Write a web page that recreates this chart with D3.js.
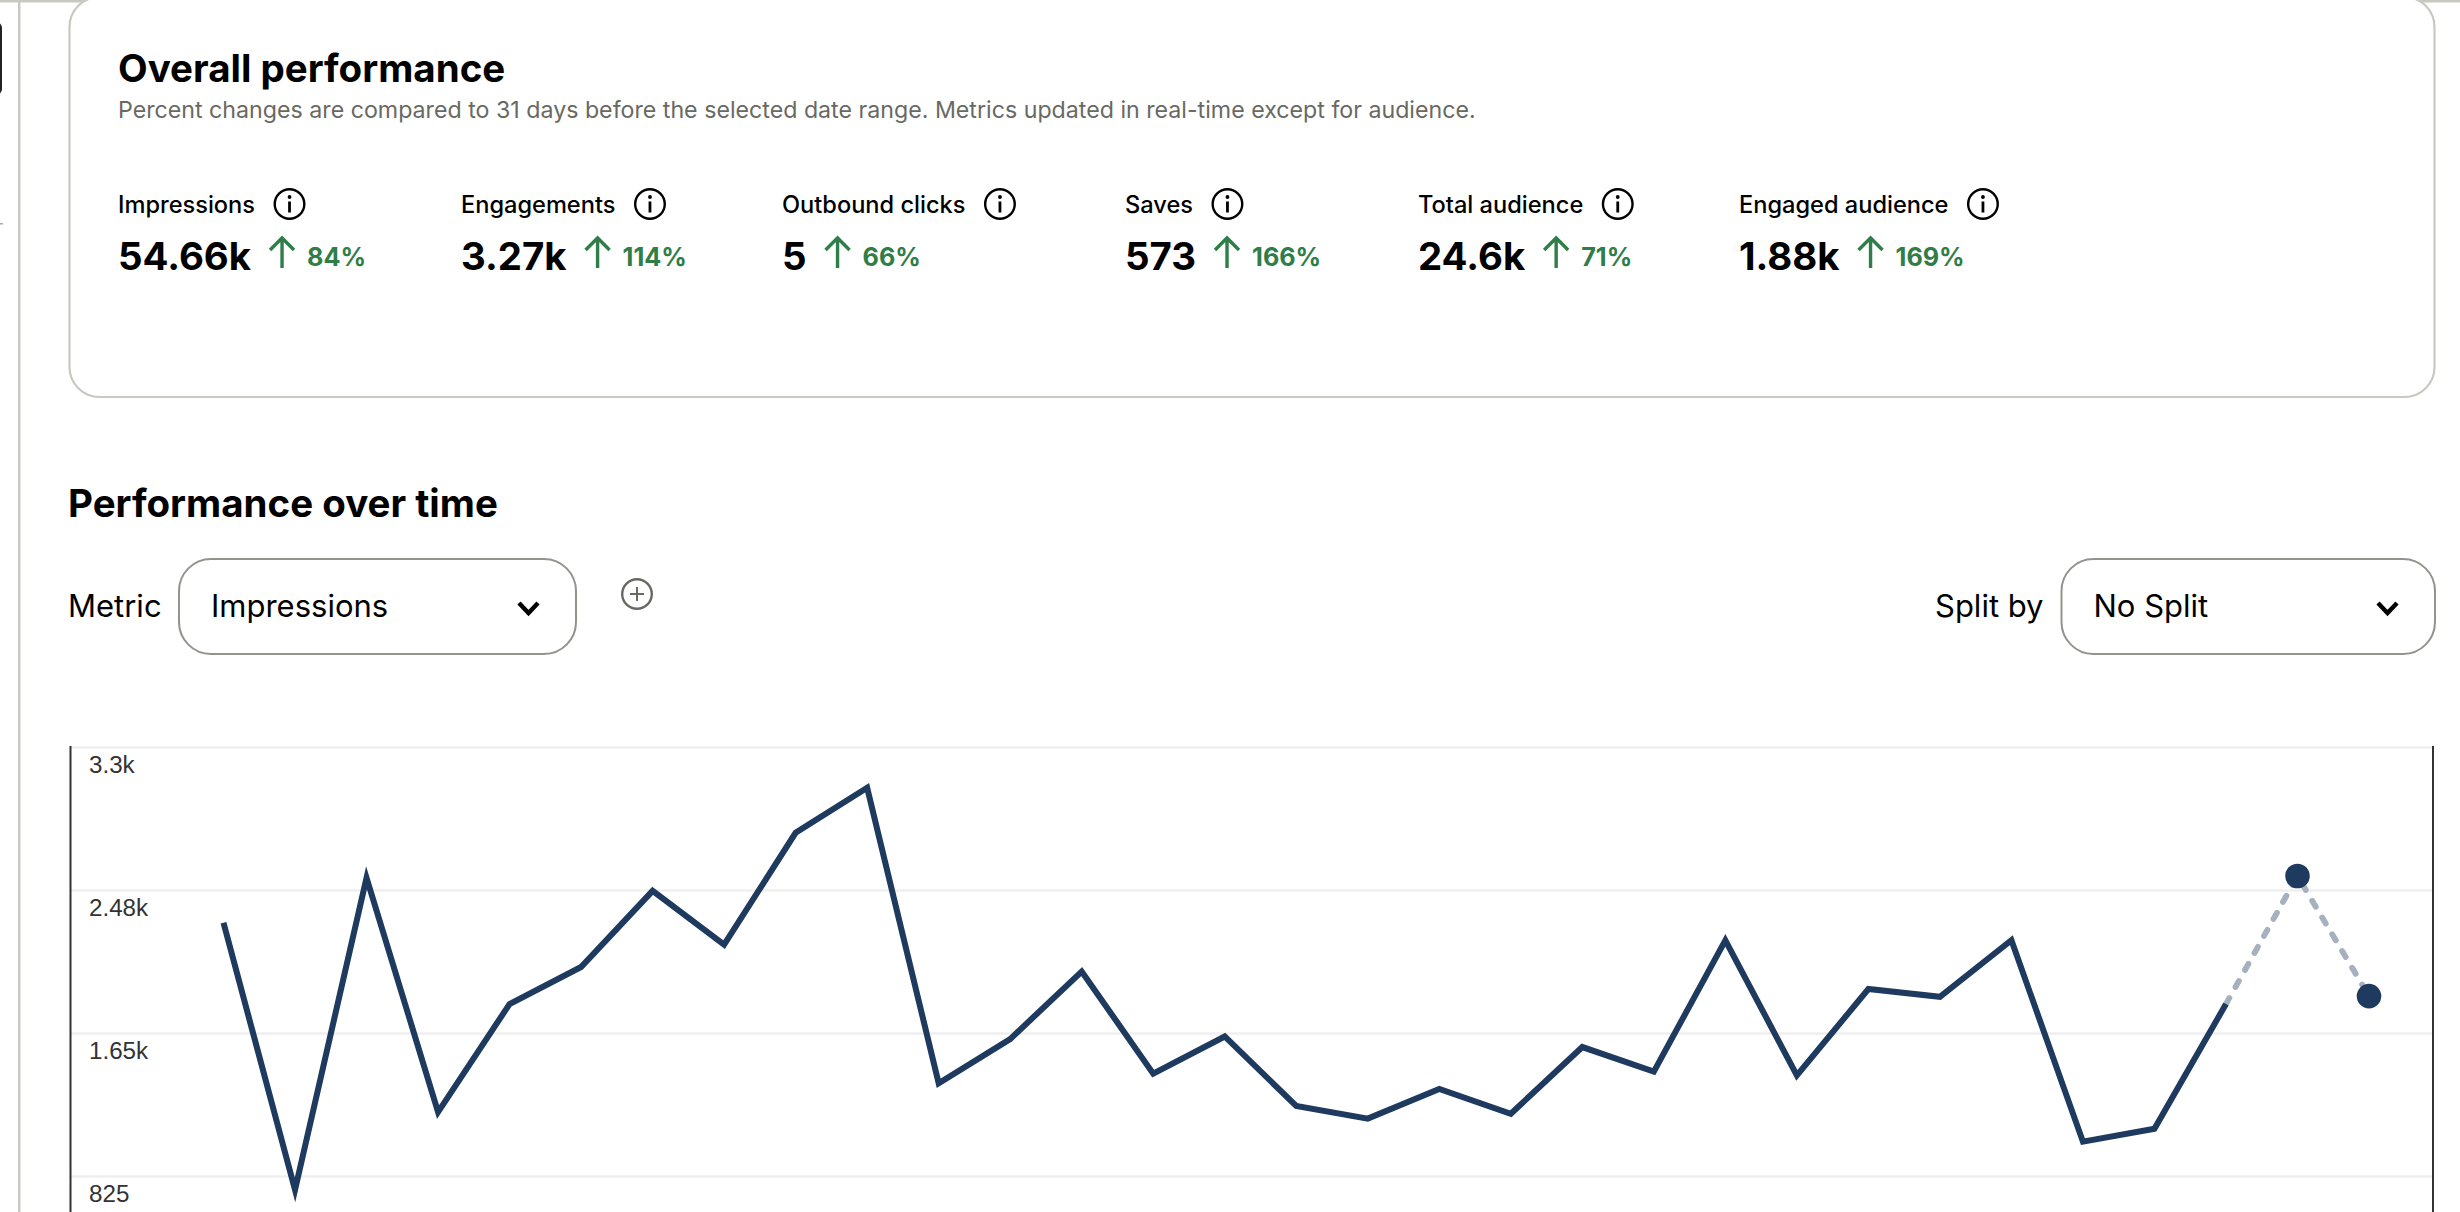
<!DOCTYPE html>
<html>
<head>
<meta charset="utf-8">
<script src="https://cdnjs.cloudflare.com/ajax/libs/d3/7.8.5/d3.min.js"></script>
<style>
  html, body { margin: 0; padding: 0; background: #fff; overflow: hidden; }
  text { font-family: Inter, "Noto Sans", sans-serif; }
</style>
</head>
<body>
<script>
// values
var days = d3.range(1, 32);
var impressions = [2286, 745, 2545, 1194, 1817, 2031, 2470, 2160, 2805, 3065,
  1360, 1615, 2005, 1415, 1630, 1229, 1156, 1327, 1184, 1569,
  1427, 2185, 1405, 1904, 1859, 2185, 1023, 1098, 1817, 2556, 1863];
var firstEstimatedDay = 29; // last solid point, the rest is dashed

var yTicks = [825, 1650, 2475, 3300];
var yTickLabels = ['825', '1.65k', '2.48k', '3.3k'];

var kpiNames = ['Impressions', 'Engagements', 'Outbound clicks', 'Saves', 'Total audience', 'Engaged audience'];
var kpiValues = ['54.66k', '3.27k', '5', '573', '24.6k', '1.88k'];
var kpiChanges = ['84%', '114%', '66%', '166%', '71%', '169%'];

var kpiLeft = [118, 461, 782, 1125, 1418, 1739];

var ink = '#000', grey = '#696963', rule = '#c9c9c1', green = '#2f7d47', navy = '#1e3a5f';

var svg = d3.select('body').append('svg')
  .attr('width', 2460)
  .attr('height', 1212)
  .style('display', 'block');

// page chrome
svg.append('rect').attr('x', 0).attr('y', 0).attr('width', 2460).attr('height', 2.5).attr('fill', rule);
svg.append('rect').attr('x', 18).attr('y', 0).attr('width', 2.5).attr('height', 1212).attr('fill', rule);
svg.append('rect').attr('x', -12).attr('y', 22).attr('width', 14).attr('height', 73).attr('rx', 6).attr('fill', '#222');
svg.append('rect').attr('x', 0).attr('y', 223).attr('width', 3).attr('height', 1.5).attr('fill', '#aaa');

// overall performance card
svg.append('rect')
  .attr('x', 69.5).attr('y', -3)
  .attr('width', 2365).attr('height', 400)
  .attr('rx', 30)
  .attr('fill', '#fff')
  .attr('stroke', rule)
  .attr('stroke-width', 2.2);

svg.append('text').text('Overall performance')
  .attr('x', 118).attr('y', 81.5)
  .attr('font-size', 38.5).attr('font-weight', 650).attr('fill', ink);

svg.append('text').text('Percent changes are compared to 31 days before the selected date range. Metrics updated in real-time except for audience.')
  .attr('x', 118).attr('y', 118)
  .attr('font-size', 23.2).attr('fill', grey);

function infoIcon(g, cx, cy) {
  var icon = g.append('g').attr('transform', 'translate(' + cx + ',' + cy + ')');
  icon.append('circle').attr('r', 14.8).attr('fill', 'none').attr('stroke', ink).attr('stroke-width', 2.4);
  icon.append('rect').attr('x', -1.4).attr('y', -2.5).attr('width', 2.8).attr('height', 11).attr('fill', ink);
  icon.append('circle').attr('cy', -7).attr('r', 1.9).attr('fill', ink);
}

kpiNames.forEach(function(name, i) {
  var g = svg.append('g').attr('transform', 'translate(' + kpiLeft[i] + ',0)');

  var label = g.append('text').text(name)
    .attr('y', 212.5)
    .attr('font-size', 23.6).attr('font-weight', 500).attr('fill', ink);
  infoIcon(g, label.node().getComputedTextLength() + 34.5, 204);

  var value = g.append('text').text(kpiValues[i])
    .attr('y', 270)
    .attr('font-size', 38.4).attr('font-weight', 650).attr('fill', ink);

  var ax = value.node().getComputedTextLength() + 31;
  g.append('path')
    .attr('d', 'M' + ax + ' 268V239M' + (ax - 12) + ' 250L' + ax + ' 238L' + (ax + 12) + ' 250')
    .attr('fill', 'none').attr('stroke', green).attr('stroke-width', 3.4);

  g.append('text').text(kpiChanges[i])
    .attr('x', ax + 25).attr('y', 266)
    .attr('font-size', 25.2).attr('font-weight', 650).attr('fill', green);
});

// performance over time header
svg.append('text').text('Performance over time')
  .attr('x', 68).attr('y', 516.5)
  .attr('font-size', 38.5).attr('font-weight', 650).attr('fill', ink);

function dropdown(label, labelX, boxX, boxW, current) {
  svg.append('text').text(label)
    .attr('x', labelX).attr('y', 617)
    .attr('font-size', 31).attr('fill', ink);
  svg.append('rect')
    .attr('x', boxX).attr('y', 559)
    .attr('width', boxW).attr('height', 95)
    .attr('rx', 32)
    .attr('fill', '#fff').attr('stroke', '#93938e').attr('stroke-width', 2);
  svg.append('text').text(current)
    .attr('x', boxX + 32).attr('y', 617)
    .attr('font-size', 31).attr('fill', ink);
  var cx = boxX + boxW - 47.5;
  svg.append('path')
    .attr('d', 'M' + (cx - 9.5) + ' 603L' + cx + ' 613L' + (cx + 9.5) + ' 603')
    .attr('fill', 'none').attr('stroke', ink).attr('stroke-width', 4.4);
}
dropdown('Metric', 68, 179, 397, 'Impressions');
dropdown('Split by', 1935, 2061.5, 373.5, 'No Split');

var plus = svg.append('g').attr('transform', 'translate(637,594)');
plus.append('circle').attr('r', 14.8).attr('fill', 'none').attr('stroke', '#696963').attr('stroke-width', 2.4);
plus.append('path').attr('d', 'M-7 0H7M0 -7V7').attr('stroke', '#696963').attr('stroke-width', 2);

// chart
var left = 70.5, right = 2433;
var x = d3.scaleLinear().domain([1, 31]).range([223.5, 2369]);
var y = d3.scaleLinear().domain([0, 3300]).range([1319, 747]);

var axis = d3.axisRight(y)
  .tickValues(yTicks)
  .tickFormat(function(d, i) { return yTickLabels[i]; })
  .tickSize(right - left);

var axisG = svg.append('g')
  .attr('transform', 'translate(' + left + ',0)')
  .call(axis);
axisG.select('.domain').remove();
axisG.selectAll('.tick line').attr('stroke', '#efefef').attr('stroke-width', 2.4);
axisG.selectAll('.tick text')
  .attr('x', 18.5).attr('dy', 25.5)
  .attr('font-size', 24.2)
  .attr('fill', '#333')
  .style('font-family', '"Liberation Sans", Arial, sans-serif');

[left, right].forEach(function(px) {
  svg.append('line')
    .attr('x1', px).attr('x2', px)
    .attr('y1', 746).attr('y2', 1212)
    .attr('stroke', '#333').attr('stroke-width', 2);
});

var points = days.map(function(d, i) { return { day: d, value: impressions[i] }; });
var line = d3.line()
  .x(function(d) { return x(d.day); })
  .y(function(d) { return y(d.value); });

svg.append('path')
  .datum(points.filter(function(d) { return d.day >= firstEstimatedDay; }))
  .attr('d', line)
  .attr('fill', 'none')
  .attr('stroke', '#a6b0be')
  .attr('stroke-width', 5.8)
  .attr('stroke-linecap', 'round')
  .attr('stroke-dasharray', '7 12.5');

svg.append('path')
  .datum(points.filter(function(d) { return d.day <= firstEstimatedDay; }))
  .attr('d', line)
  .attr('fill', 'none')
  .attr('stroke', navy)
  .attr('stroke-width', 6)
  .attr('stroke-linejoin', 'miter')
  .attr('stroke-miterlimit', 10);

svg.selectAll('circle.pt')
  .data(points.filter(function(d) { return d.day > firstEstimatedDay; }))
  .join('circle')
  .attr('class', 'pt')
  .attr('cx', function(d) { return x(d.day); })
  .attr('cy', function(d) { return y(d.value); })
  .attr('r', 12.3)
  .attr('fill', navy);
</script>
</body>
</html>
